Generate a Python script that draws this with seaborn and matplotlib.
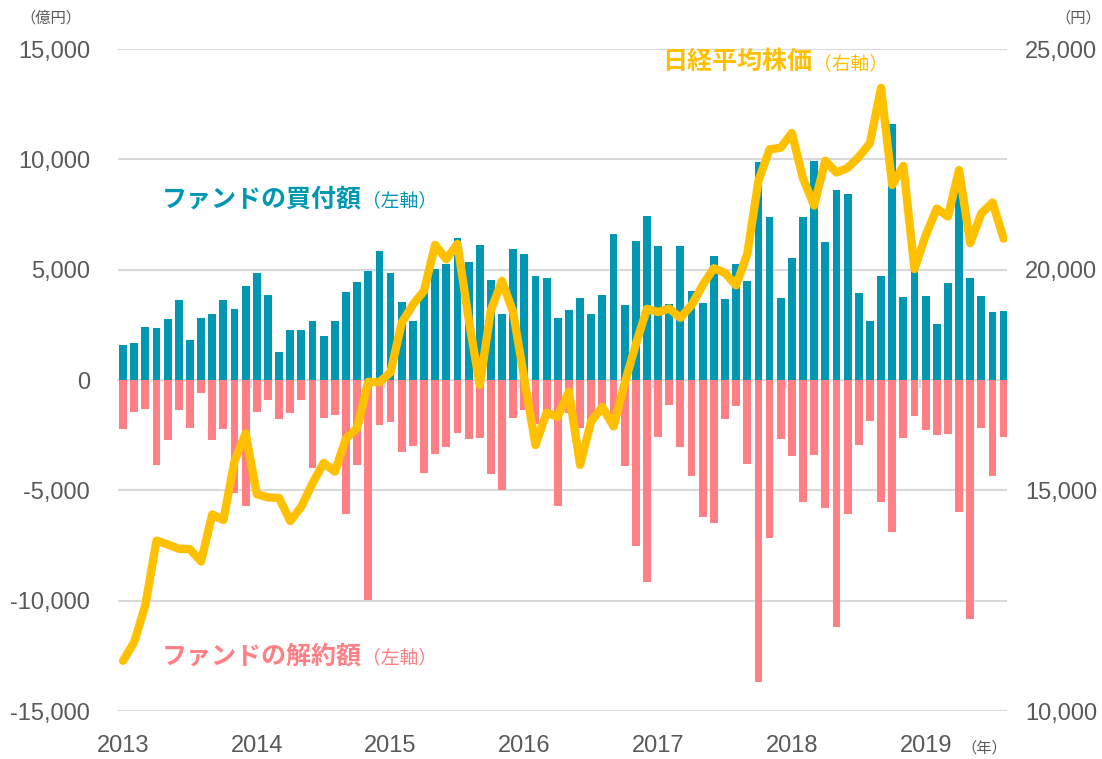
import numpy as np
import pandas as pd
import seaborn as sns
import matplotlib.pyplot as plt

# 月次データ 2013/01 - 2019/08
years = ['2013', '2014', '2015', '2016', '2017', '2018', '2019']
months = [f'{y}-{m:02d}' for y in range(2013, 2020) for m in range(1, 13)][:80]

# ファンドの買付額（億円）
buy = [1590, 1690, 2400, 2340, 2760, 3640, 1810, 2790, 3000, 3620, 3220, 4260,
       4830, 3870, 1250, 2280, 2270, 2690, 2010, 2690, 4000, 4440, 4920, 5860,
       4830, 3540, 2690, 4000, 5030, 5250, 6420, 5330, 6120, 4530, 2980, 5920,
       5720, 4730, 4610, 2830, 3170, 3720, 3000, 3850, 6600, 3410, 6280, 7430,
       6090, 3440, 6060, 4050, 3490, 5620, 3650, 5240, 4510, 9860, 7400, 3720,
       5540, 7390, 9910, 6240, 8590, 8410, 3940, 2670, 4710, 11600, 3760, 5100,
       3790, 2520, 4380, 8500, 4620, 3810, 3100, 3130]

# ファンドの解約額（億円）
sell = [-2220, -1430, -1310, -3850, -2730, -1360, -2170, -570, -2700, -2200, -5140, -5690,
        -1430, -910, -1750, -1500, -890, -4000, -1710, -1590, -6090, -3850, -9970, -2020,
        -1900, -3260, -2990, -4200, -3350, -3020, -2390, -2670, -2610, -4270, -4970, -1700,
        -1360, -2000, -1600, -5710, -1500, -2190, -1800, -1300, -2200, -3880, -7510, -9150,
        -2580, -1120, -3040, -4340, -6210, -6460, -1780, -1160, -3810, -13670, -7140, -2690,
        -3460, -5540, -3410, -5790, -11180, -6060, -2950, -1840, -5540, -6900, -2630, -1620,
        -2270, -2490, -2430, -5970, -10820, -2160, -4340, -2570]

# 日経平均株価（円、月末値）
nikkei = [11138, 11559, 12397, 13860, 13774, 13677, 13668, 13388, 14455, 14327, 15662, 16291,
          14914, 14841, 14828, 14304, 14632, 15162, 15621, 15425, 16174, 16414, 17460, 17451,
          17674, 18798, 19207, 19520, 20563, 20236, 20585, 18890, 17388, 19083, 19747, 19034,
          17518, 16027, 16759, 16666, 17235, 15576, 16569, 16887, 16450, 17425, 18308, 19114,
          19041, 19119, 18909, 19197, 19651, 20033, 19925, 19646, 20356, 22012, 22725, 22765,
          23098, 22068, 21454, 22468, 22202, 22305, 22554, 22865, 24120, 21920, 22351, 20015,
          20773, 21385, 21206, 22259, 20601, 21276, 21522, 20704]

left_ticks = [15000, 10000, 5000, 0, -5000, -10000, -15000]
right_ticks = [25000, 20000, 15000, 10000]

TEAL = '#0097B2'
PINK = '#FF7F84'
GOLD = '#FFC000'
GRID = '#D9D9D9'
TXT = '#595959'

sns.set_theme(style='white')
plt.rcParams['font.family'] = ['Liberation Sans', 'Noto Sans CJK JP', 'DejaVu Sans']

df = pd.DataFrame({'month': months, 'buy': buy, 'sell': sell, 'nikkei': nikkei})
df['idx'] = np.arange(len(df))

fig = plt.figure(figsize=(11.02, 7.59), dpi=100)
ax = fig.add_axes([0.1071, 0.0632, 0.8067, 0.8722])

sns.barplot(data=df, x='month', y='buy', color=TEAL, saturation=1, width=0.7,
            ax=ax, linewidth=0)
sns.barplot(data=df, x='month', y='sell', color=PINK, saturation=1, width=0.7,
            ax=ax, linewidth=0)

ax.set_ylim(-15000, 15000)
ax.set_xlim(-0.45, 79.3)
ax.set_yticks(left_ticks)
ax.set_yticklabels([f'{v:,}' for v in left_ticks])
ax.set_xticks(np.arange(0, 80, 12))
ax.set_xticklabels(years)
ax.set_xlabel('')
ax.set_ylabel('')
ax.set_axisbelow(True)
ax.grid(axis='y', color=GRID, linewidth=1.5)
ax.grid(axis='x', visible=False)
for s in ax.spines.values():
    s.set_visible(False)
ax.tick_params(axis='y', length=0, pad=20, labelsize=17, labelcolor=TXT)
ax.tick_params(axis='x', length=0, pad=17, labelsize=17, labelcolor=TXT)

# ゼロ線と年の区切り目盛
sec = ax.secondary_xaxis(0.5)
sec.set_xticks(np.arange(11.5, 80, 12))
sec.set_xticklabels([])
sec.spines['top'].set_color(GRID)
sec.spines['top'].set_linewidth(1.5)
sec.tick_params(direction='in', length=6, color=GRID, width=1.5)

# 日経平均（右軸）
ax2 = ax.twinx()
sns.lineplot(data=df, x='idx', y='nikkei', ax=ax2, color=GOLD, linewidth=6,
             solid_joinstyle='round', solid_capstyle='round')
ax2.set_ylim(10000, 25000)
ax2.set_xlim(-0.45, 79.3)
ax2.set_yticks(right_ticks)
ax2.set_yticklabels([f'{v:,}' for v in right_ticks])
ax2.set_ylabel('')
ax2.set_xlabel('')
ax2.grid(False)
for s in ax2.spines.values():
    s.set_visible(False)
ax2.tick_params(axis='y', length=0, pad=13, labelsize=17, labelcolor=TXT)

# 単位
fig.text(51 / 1102, 1 - 18 / 759, '（億円）', ha='center', va='center', fontsize=11, color=TXT)
fig.text(1078 / 1102, 1 - 18 / 759, '（円）', ha='center', va='center', fontsize=11, color=TXT)
fig.text(984 / 1102, 1 - 748 / 759, '（年）', ha='center', va='center', fontsize=11, color=TXT)

# 系列ラベル
def label(x, y, main, sub, color):
    t = ax.text(x, y, main, ha='left', va='center', fontsize=18, fontweight='bold',
                color=color, family=['Noto Sans CJK JP'])
    ax.annotate(sub, xy=(1, 0.45), xycoords=t, ha='left', va='center', fontsize=13.5,
                color=color, family=['Noto Sans CJK JP'])

label(3.5, 8200, 'ファンドの買付額', '（左軸）', TEAL)
label(3.5, -12550, 'ファンドの解約額', '（左軸）', PINK)
label(48.4, 14400, '日経平均株価', '（右軸）', GOLD)

fig.savefig('out.png', dpi=100)
